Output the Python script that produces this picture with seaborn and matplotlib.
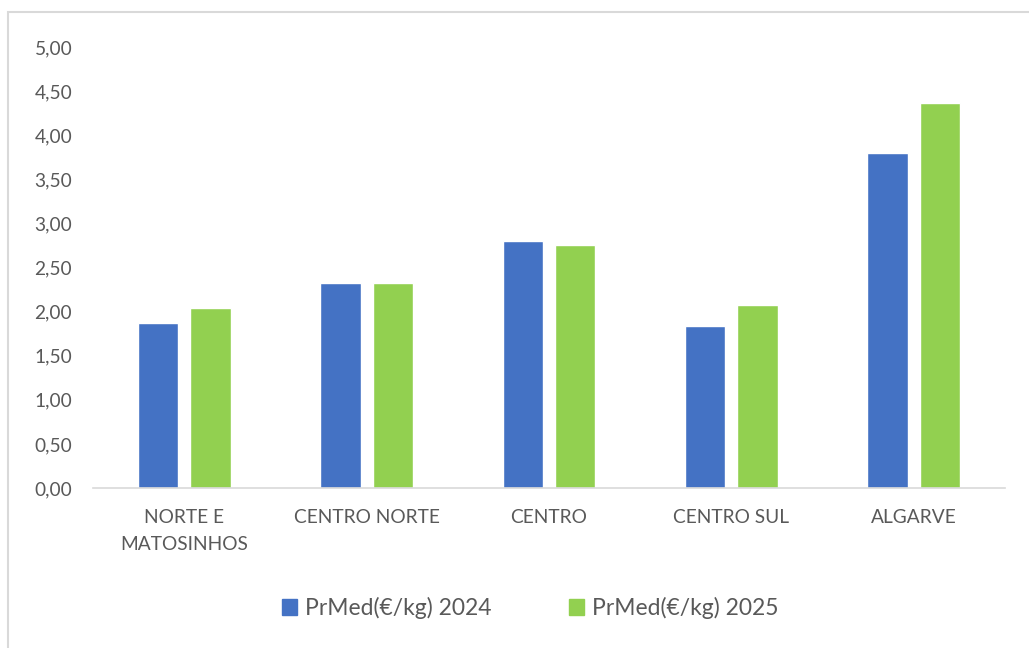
import pandas as pd
import matplotlib.pyplot as plt
import matplotlib.patches as mpatches
from matplotlib.ticker import FuncFormatter
import seaborn as sns

regions = ['NORTE E\nMATOSINHOS', 'CENTRO NORTE', 'CENTRO', 'CENTRO SUL', 'ALGARVE']
prmed_2024 = [1.87, 2.32, 2.80, 1.84, 3.80]
prmed_2025 = [2.04, 2.32, 2.75, 2.07, 4.37]
series_names = ['PrMed(€/kg) 2024', 'PrMed(€/kg) 2025']
colors = ['#4472C4', '#92D050']

df = pd.DataFrame({
    'Region': regions * 2,
    'Series': [series_names[0]] * len(regions) + [series_names[1]] * len(regions),
    'Value': prmed_2024 + prmed_2025,
})

sns.set_style('white')
plt.rcParams['font.family'] = ['Lato', 'DejaVu Sans']
text_color = '#595959'

fig = plt.figure(figsize=(10.29, 6.48), dpi=100)
ax = fig.add_axes([93 / 1029, 1 - 488 / 648, (1005 - 93) / 1029, (488 - 47) / 648])

sns.barplot(data=df, x='Region', y='Value', hue='Series', palette=colors,
            width=0.575, gap=0.23, ax=ax, legend=False, saturation=1)

ax.set_ylim(0, 5)
ax.set_yticks([i * 0.5 for i in range(11)])
ax.yaxis.set_major_formatter(FuncFormatter(lambda v, p: f'{v:.2f}'.replace('.', ',')))
ax.set_xlabel('')
ax.set_ylabel('')
for s in ['top', 'right', 'left']:
    ax.spines[s].set_visible(False)
ax.spines['bottom'].set_color('#d9d9d9')
ax.spines['bottom'].set_linewidth(1.2)
ax.tick_params(axis='both', length=0, colors=text_color, labelsize=13.8)
ax.tick_params(axis='x', pad=15)
ax.tick_params(axis='y', pad=15)
for lbl in ax.get_xticklabels():
    lbl.set_linespacing(1.75)

handles = [mpatches.Patch(color=c, label=n) for c, n in zip(colors, series_names)]
fig.legend(handles=handles, loc='center', bbox_to_anchor=(530 / 1029, 1 - 608 / 648),
           ncol=2, frameon=False, fontsize=16.5, labelcolor=text_color,
           handlelength=0.65, handleheight=0.65, handletextpad=0.35, columnspacing=3.4)

# chart area border
fig.add_artist(mpatches.Rectangle((8 / 1029, -0.01), 1.1, 1 - 11.5 / 648 + 0.01,
                                  transform=fig.transFigure, fill=False,
                                  edgecolor='#d9d9d9', linewidth=1.5))

fig.savefig('out.png', dpi=100)
